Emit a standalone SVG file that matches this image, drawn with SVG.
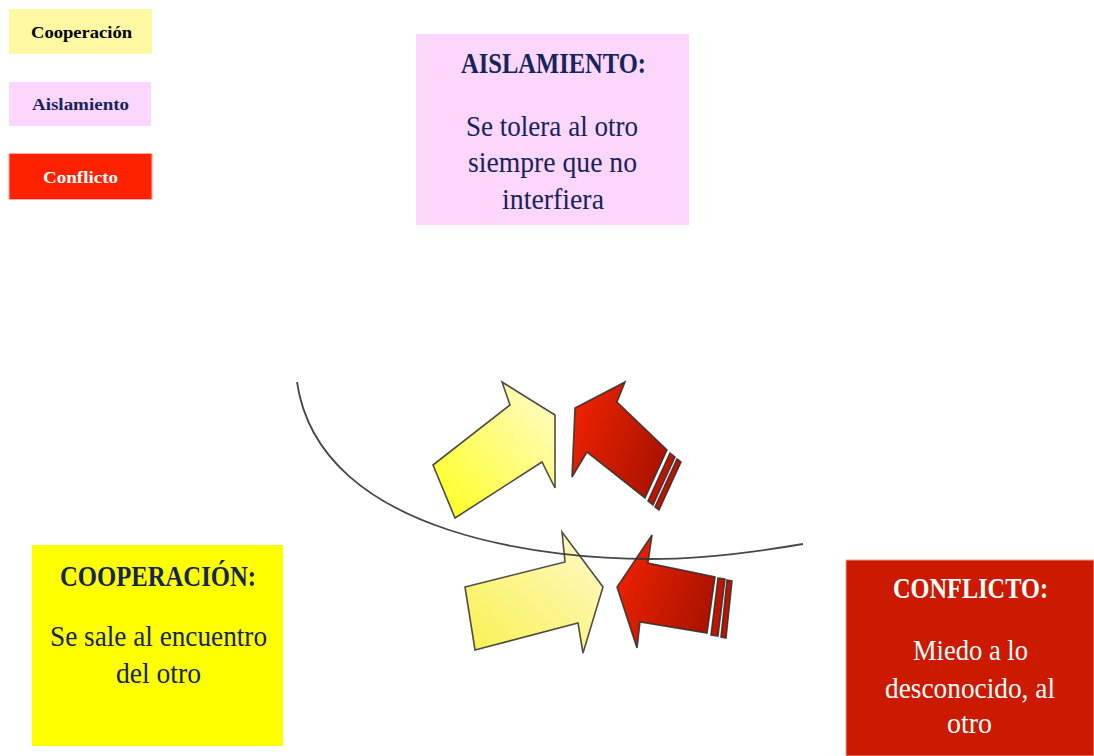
<svg xmlns="http://www.w3.org/2000/svg" width="1094" height="756" viewBox="0 0 1094 756">
<style>
.t{font-family:"Liberation Serif","DejaVu Serif",serif;}
.ti{font-size:30px;font-weight:bold;}
.bd{font-size:30px;}
.lg{font-size:17px;font-weight:bold;}
.navy{fill:#15245a;}
.arrow{stroke:#2e2e2e;stroke-width:1.6;stroke-linejoin:miter;stroke-opacity:0.85;}
</style>
<defs>
<linearGradient id="gy1" x1="0" y1="1" x2="1" y2="0">
<stop offset="0" stop-color="#ffff1a"/>
<stop offset="1" stop-color="#fffbd0"/>
</linearGradient>
<linearGradient id="gy2" x1="0" y1="1" x2="1" y2="0">
<stop offset="0" stop-color="#f8f040"/>
<stop offset="1" stop-color="#fff8c8"/>
</linearGradient>
<linearGradient id="gr" x1="0" y1="0" x2="1" y2="0.4">
<stop offset="0" stop-color="#f42400"/>
<stop offset="1" stop-color="#b01400"/>
</linearGradient>
</defs>

<g id="legend-cooperacion">
<rect x="9" y="9" width="143" height="45" fill="#fdf9a3"/>
<text class="t lg" x="31" y="38" textLength="101" lengthAdjust="spacingAndGlyphs" fill="#000">Cooperación</text>
</g>
<g id="legend-aislamiento">
<rect x="9" y="82" width="142" height="44" fill="#fcd6fc"/>
<text class="t lg navy" x="32" y="110" textLength="97" lengthAdjust="spacingAndGlyphs">Aislamiento</text>
</g>
<g id="legend-conflicto">
<rect x="9" y="153.5" width="143" height="46" fill="#ff2200" stroke="#ffb0a8" stroke-width="1"/>
<text class="t lg" x="43" y="183" textLength="75" lengthAdjust="spacingAndGlyphs" fill="#fff">Conflicto</text>
</g>

<g id="aislamiento">
<rect x="416" y="34" width="273" height="191" fill="#fcd6fc"/>
<text class="t ti navy" x="461" y="73" textLength="185" lengthAdjust="spacingAndGlyphs">AISLAMIENTO:</text>
<text class="t bd navy" x="466" y="136" textLength="172" lengthAdjust="spacingAndGlyphs">Se tolera al otro</text>
<text class="t bd navy" x="468" y="172" textLength="169" lengthAdjust="spacingAndGlyphs">siempre que no</text>
<text class="t bd navy" x="502" y="209" textLength="102" lengthAdjust="spacingAndGlyphs">interfiera</text>
</g>

<g id="cooperacion">
<rect x="32" y="545" width="251" height="201" fill="#ffff00"/>
<text class="t ti navy" x="60" y="586" textLength="196" lengthAdjust="spacingAndGlyphs">COOPERACIÓN:</text>
<text class="t bd navy" x="50" y="646" textLength="217" lengthAdjust="spacingAndGlyphs">Se sale al encuentro</text>
<text class="t bd navy" x="116" y="683" textLength="85" lengthAdjust="spacingAndGlyphs">del otro</text>
</g>

<g id="conflicto">
<rect x="846" y="560" width="248" height="196" fill="#cc1a00" stroke="#f0a090" stroke-width="1"/>
<text class="t ti" x="893" y="598" textLength="155" lengthAdjust="spacingAndGlyphs" fill="#fff">CONFLICTO:</text>
<text class="t bd" x="913" y="660" textLength="115" lengthAdjust="spacingAndGlyphs" fill="#fff">Miedo a lo</text>
<text class="t bd" x="885" y="698" textLength="170" lengthAdjust="spacingAndGlyphs" fill="#fff">desconocido, al</text>
<text class="t bd" x="947" y="733" textLength="45" lengthAdjust="spacingAndGlyphs" fill="#fff">otro</text>
</g>

<g id="arrows">
<polygon class="arrow" fill="url(#gy1)" points="433,465 510,405 502,382 555,415 555,488 542,462 455,518"/>
<polygon class="arrow" fill="url(#gr)" points="575,408 625,382 617,402 667,450 645,498 587,452 572,477"/>
<polygon class="arrow" fill="#c01400" points="670,453 675,457 653,505 648,501"/>
<polygon class="arrow" fill="#c01400" points="677,459 681,462 659,510 655,507"/>
<polygon class="arrow" fill="url(#gy2)" fill-opacity="0.92" points="465,587 565,562 562,532 603,587 583,653 578,623 475,650"/>
<polygon class="arrow" fill="url(#gr)" points="652,535 648,563 715,577 707,633 640,622 637,648 617,587"/>
<polygon class="arrow" fill="#c01400" points="718,578 725,579 718,636 711,635"/>
<polygon class="arrow" fill="#c01400" points="727,580 732,581 726,638 721,637"/>
</g>

<g id="connectors">
<path d="M297,382 C320,540 560,559 650,559 C700,559 750,553 803,544" fill="none" stroke="#333" stroke-width="1.8" stroke-opacity="0.9"/>
</g>
</svg>
